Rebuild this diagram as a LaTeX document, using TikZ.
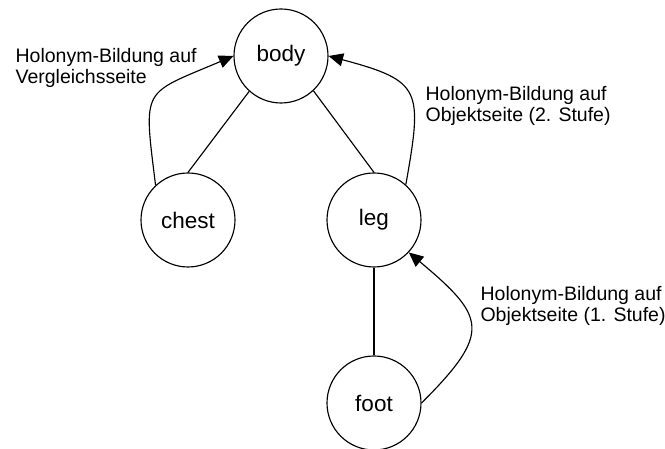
\documentclass[tikz,border=0pt]{standalone}
\usepackage{fontspec}
\setmainfont{Liberation Sans}
\usetikzlibrary{arrows.meta}

\begin{document}
\begin{tikzpicture}[line width=0.65pt,
	concept/.style = {circle, draw, minimum size=1.88cm, inner sep=0pt, font=\fontsize{12.8}{15}\selectfont},
	holonym/.style = {-{Triangle[length=2.9mm, width=2.6mm]}},
	note/.style = {align=left, anchor=north west, inner sep=0pt, font=\fontsize{11.1}{12.3}\selectfont}]
	\useasboundingbox (0,0) rectangle (13.3,8.98);

	\node[concept] (body) at (5.62,7.86) {body};
	\node[concept] (chest) at (3.76,4.58) {chest};
	\node[concept] (leg) at (7.48,4.58) {leg};
	\node[concept] (foot) at (7.48,0.92) {foot};

	\draw (body.228) -- (chest.north);
	\draw (body.313) -- (leg.north);
	\draw (leg.south) -- (foot.north);

	\draw[holonym] (chest.133) to[out=97, in=203, looseness=1.7] (body.west);
	\draw[holonym] (leg.48) to[out=80, in=-15, looseness=1.65] (body.east);
	\draw[holonym] (foot.east) to[out=45, in=-40, looseness=1.7] (leg.-43);

	\node[note] (vergleich) at (0.30,8.03) {Holonym-Bildung auf\\Vergleichsseite};
	\node[note] (objekt2) at (8.50,7.27) {Holonym-Bildung auf\\Objektseite (2. Stufe)};
	\node[note] (objekt1) at (9.60,3.27) {Holonym-Bildung auf\\Objektseite (1. Stufe)};
\end{tikzpicture}
\end{document}
